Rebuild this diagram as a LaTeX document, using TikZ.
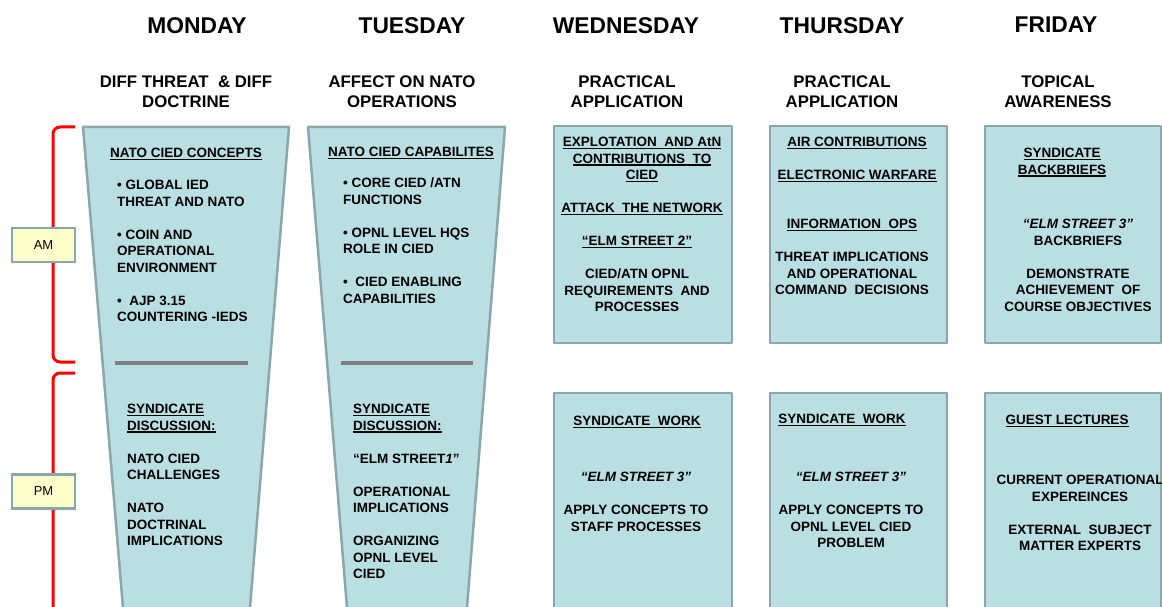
\documentclass[tikz,border=0pt]{standalone}
\usepackage{fontspec}
\setmainfont{Liberation Sans}

\definecolor{panelbg}{HTML}{B9DFE3}
\definecolor{panelrim}{HTML}{8CA7A9}
\definecolor{slotbg}{HTML}{FFFFCC}
\definecolor{dividergray}{HTML}{7F7F7F}

\newcommand\topicline[1]{\leavevmode\vtop{\hbox{#1}\kern1.2pt\hrule height 1.2pt}}

\begin{document}
\begin{tikzpicture}[x=1pt, y=-1pt,
  panel/.style={draw=panelrim, fill=panelbg, line width=2.5pt, line join=round},
  dayname/.style={font=\fontsize{22.8}{26}\selectfont\bfseries, anchor=north, inner sep=0pt},
  theme/.style={font=\fontsize{16.8}{20}\selectfont\bfseries, align=center, anchor=north, inner sep=0pt},
  body/.style={font=\fontsize{13.5}{16.5}\selectfont\bfseries, align=center, anchor=north, inner sep=0pt},
  bodyleft/.style={body, align=left, anchor=north west},
  slotbox/.style={draw=panelrim, fill=slotbg, line width=2.5pt, minimum width=63pt,
    minimum height=34pt, inner sep=0pt, font=\fontsize{13}{15}\selectfont},
  brace/.style={draw=red, line width=3pt, rounded corners=7pt},
  divider/.style={draw=dividergray, line width=4pt}]
  \clip (0,0) rectangle (1162,607);

  % am / pm brackets
  \draw[brace] (75,127) -- (53,127) -- (53,362) -- (75,362);
  \draw[brace] (75,373) -- (53,373) -- (53,640);
  \node[slotbox] (am) at (43.5,245) {AM};
  \node[slotbox] (pm) at (43.5,491.5) {PM};

  % funnels for monday and tuesday
  \draw[panel] (83,127) -- (289,127) -- (249,620) -- (124,620) -- cycle;
  \draw[panel] (308,127) -- (505,127) -- (466,620) -- (348,620) -- cycle;
  \draw[divider] (115,363) -- (248,363);
  \draw[divider] (341,363) -- (473,363);

  % boxes for wednesday to friday
  \draw[panel] (554,126) rectangle (732,343);
  \draw[panel] (770,126) rectangle (947,343);
  \draw[panel] (985,126) rectangle (1161,343);
  \draw[panel] (554,393) rectangle (732,640);
  \draw[panel] (770,393) rectangle (947,640);
  \draw[panel] (985,393) rectangle (1161,640);

  % days
  \node[dayname] (mon) at (197,17) {MONDAY};
  \node[dayname] (tue) at (412,17) {TUESDAY};
  \node[dayname] (wed) at (626,17) {WEDNESDAY};
  \node[dayname] (thu) at (842,17) {THURSDAY};
  \node[dayname] (fri) at (1056,17) {FRIDAY};

  \node[theme] (montheme) at (186,76) {DIFF THREAT\ \ \& DIFF\\DOCTRINE};
  \node[theme] (tuetheme) at (402,76) {AFFECT ON NATO\\OPERATIONS};
  \node[theme] (wedtheme) at (627,76) {PRACTICAL\\APPLICATION};
  \node[theme] (thutheme) at (842,76) {PRACTICAL\\APPLICATION};
  \node[theme] (fritheme) at (1058,76) {TOPICAL\\AWARENESS};

  % monday
  \node[body] (monamhead) at (186,148) {\topicline{NATO CIED CONCEPTS}};
  \node[bodyleft] (monamlist) at (117,180) {• GLOBAL IED\\THREAT AND NATO\\[16.5pt]%
    • COIN AND\\OPERATIONAL\\ENVIRONMENT\\[16.5pt]•\ \ AJP 3.15\\COUNTERING -IEDS};
  \node[bodyleft] (monpm) at (127,404) {\topicline{SYNDICATE}\\\topicline{DISCUSSION:}\\[16.5pt]%
    NATO CIED\\CHALLENGES\\[16.5pt]NATO\\DOCTRINAL\\IMPLICATIONS};

  % tuesday
  \node[body] (tueamhead) at (411,147) {\topicline{NATO CIED CAPABILITES}};
  \node[bodyleft] (tueamlist) at (343,178) {• CORE CIED /ATN\\FUNCTIONS\\[16.5pt]%
    • OPNL LEVEL HQS\\ROLE IN CIED\\[16.5pt]•\ \ CIED ENABLING\\CAPABILITIES};
  \node[bodyleft] (tuepm) at (353,404) {\topicline{SYNDICATE}\\\topicline{DISCUSSION:}\\[16.5pt]%
    “ELM STREET\textit{1}”\\[16.5pt]OPERATIONAL\\IMPLICATIONS\\[16.5pt]ORGANIZING\\OPNL LEVEL\\CIED};

  % wednesday
  \node[body] (wedamtop) at (642,137) {\topicline{EXPLOTATION\ \ AND AtN}\\
    \topicline{CONTRIBUTIONS\ \ TO}\\\topicline{CIED}\\[16.5pt]\topicline{ATTACK\ \ THE NETWORK}};
  \node[body] (wedamlow) at (637,236) {\topicline{“ELM STREET 2”}\\[16.5pt]%
    CIED/ATN OPNL\\REQUIREMENTS\ \ AND\\PROCESSES};
  \node[body] (wedpmhead) at (637,416) {\topicline{SYNDICATE\ \ WORK}};
  \node[body] (wedpmtext) at (636,472) {\textit{“ELM STREET 3”}\\[16.5pt]%
    APPLY CONCEPTS TO\\STAFF PROCESSES};

  % thursday
  \node[body] (thuamtop) at (857,137) {\topicline{AIR CONTRIBUTIONS}\\[16.5pt]%
    \topicline{ELECTRONIC WARFARE}};
  \node[body] (thuamlow) at (852,219) {\topicline{INFORMATION\ \ OPS}\\[16.5pt]%
    THREAT IMPLICATIONS\\AND OPERATIONAL\\COMMAND\ \ DECISIONS};
  \node[body] (thupmhead) at (842,414) {\topicline{SYNDICATE\ \ WORK}};
  \node[body] (thupmtext) at (851,472) {\textit{“ELM STREET 3”}\\[16.5pt]%
    APPLY CONCEPTS TO\\OPNL LEVEL CIED\\PROBLEM};

  % friday
  \node[body] (friamtop) at (1062,148) {\topicline{SYNDICATE}\\\topicline{BACKBRIEFS}};
  \node[body] (friamlow) at (1078,219) {\textit{“ELM STREET 3”}\\BACKBRIEFS\\[16.5pt]%
    DEMONSTRATE\\ACHIEVEMENT\ \ OF\\COURSE OBJECTIVES};
  \node[body] (fripmhead) at (1067,415) {\topicline{GUEST LECTURES}};
  \node[body] (fripmtext) at (1080,475) {CURRENT OPERATIONAL\\EXPEREINCES\\[16.5pt]%
    EXTERNAL\ \ SUBJECT\\MATTER EXPERTS};
\end{tikzpicture}
\end{document}
